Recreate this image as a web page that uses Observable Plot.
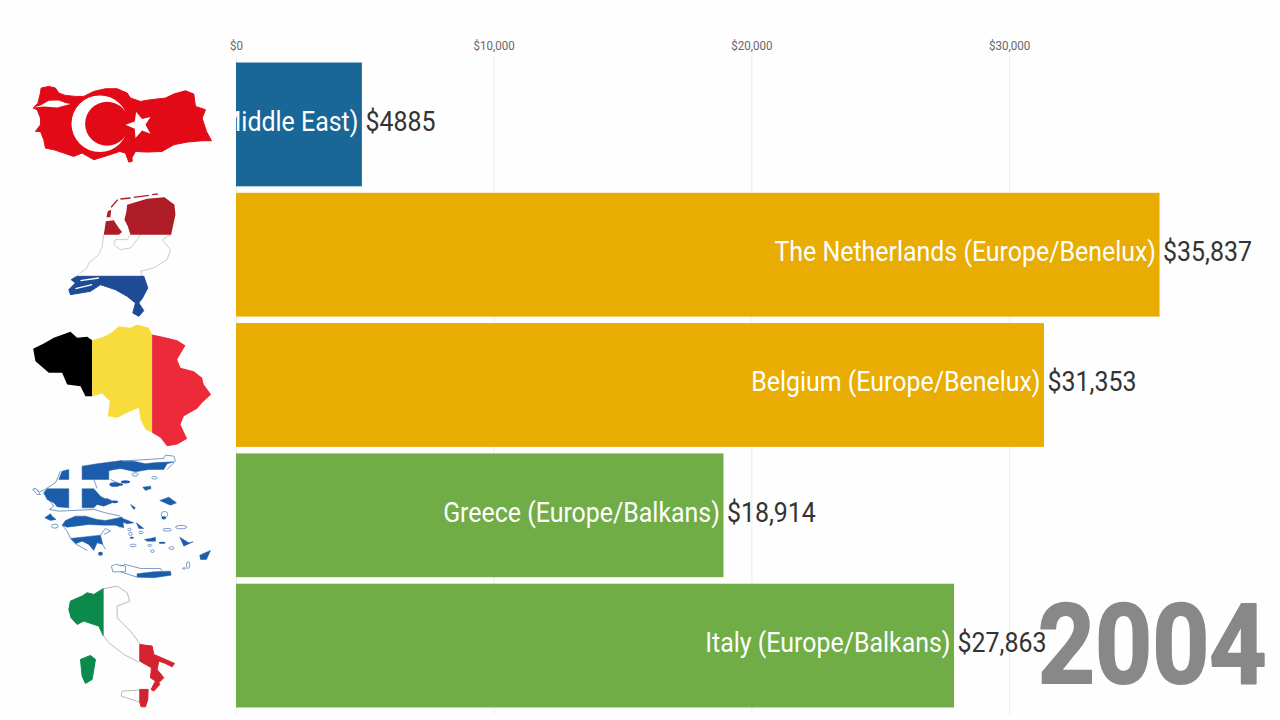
<!DOCTYPE html>
<html>
<head>
<meta charset="utf-8">
<script src="https://cdn.jsdelivr.net/npm/d3@7"></script>
<script src="https://cdn.jsdelivr.net/npm/@observablehq/plot@0.6"></script>
<style>
html,body{margin:0;padding:0;background:#fefefe;overflow:hidden}
svg{display:block}
</style>
</head>
<body>
<div id="chart"></div>
<script>
const countries = ["Turkey", "The Netherlands", "Belgium", "Greece", "Italy"];
const regions = ["Middle East", "Europe/Benelux", "Europe/Benelux", "Europe/Balkans", "Europe/Balkans"];
const gdpValues = [4885, 35837, 31353, 18914, 27863];
const valueLabels = ["$4885", "$35,837", "$31,353", "$18,914", "$27,863"];
const xTicks = [0, 10000, 20000, 30000];
const xTickLabels = ["$0", "$10,000", "$20,000", "$30,000"];
const regionNames = ["Middle East", "Europe/Benelux", "Europe/Balkans"];
const regionColors = ["#196796", "#e8ac03", "#70ad47"];
const yearLabel = "2004";

const poly = (pts, attrs) => `<polygon points="${pts}" ${attrs}/>`;
const soft = (c) => `fill="${c}" stroke="${c}" stroke-width="3" stroke-linejoin="round"`;
const svgUri = (vb, body) => "data:image/svg+xml," + encodeURIComponent(
  `<svg xmlns="http://www.w3.org/2000/svg" viewBox="${vb}" width="195" height="130">${body}</svg>`);

const turkeyOutline = "38,110 52,96 60,65 62,50 85,45 105,50 115,65 135,72 165,75 190,75 220,60 255,52 290,52 320,65 330,80 360,90 390,85 435,80 460,68 495,58 520,68 525,105 555,115 545,140 558,180 573,208 545,208 500,212 460,220 425,240 380,242 345,240 335,258 335,270 325,272 315,245 298,240 262,252 220,265 185,245 160,255 130,245 100,235 75,230 70,205 60,180 45,180 60,160 60,140 50,115";
const turkeyFlag = svgUri("0 -34.5 585 390",
  poly(turkeyOutline, soft("#e30a17")) +
  poly("40,108 60,102 85,88 115,87 135,95 150,98 110,108 70,105", 'fill="#fff"') +
  `<circle cx="238" cy="157" r="85" fill="#fff"/><circle cx="260" cy="157" r="66" fill="#e30a17"/>` +
  poly("315,160 343,150 347,122 365,143 390,137 375,160 390,187 365,177 345,200 343,172", 'fill="#fff"'));

const netherlandsFlag = svgUri("0 356.7 585 390",
  `<path d="M250 490L245 525 235 550 205 575 200 590 180 605 170 615M452 490L425 505 450 535 440 565 400 590 360 600 365 615M330 490L320 505 285 505 280 520 300 535 330 530 350 505 360 490" fill="none" stroke="#ccc" stroke-width="3"/>` +
  poly("318,420 320,400 380,382 432,378 462,400 465,430 452,490 330,490 322,465 312,445", 'fill="#ae1c28"') +
  poly("250,490 256,450 280,447 295,470 305,482 295,490", 'fill="#ae1c28"') +
  poly("258,438 262,420 272,415 270,438", 'fill="#ae1c28"') +
  `<path d="M272 408L292 385M300 383L330 380M340 378L385 372M395 370L412 368" stroke="#ae1c28" stroke-width="4" fill="none"/>` +
  poly("170,615 370,615 382,650 365,682 355,695 370,718 355,735 337,725 345,695 320,675 285,655 240,640 210,660 150,670 145,655 165,635 152,625", soft("#1e4b96")) +
  `<path d="M175 612L205 600 225 610M180 628L235 620M165 652L215 640" stroke="#fff" stroke-width="4" fill="none"/>`);

const belgiumOutline = "38,98 70,82 100,65 150,47 170,65 200,62 215,72 250,62 275,48 295,30 330,35 350,25 385,35 395,55 440,65 470,72 495,88 470,130 480,155 520,165 545,185 550,205 572,235 545,260 530,278 490,300 480,325 500,368 470,385 440,390 420,365 395,350 375,340 360,310 355,275 320,290 290,305 262,300 268,255 245,232 215,240 195,240 180,210 140,205 125,170 85,170 45,135";
const belgiumFlag = svgUri("0 12.9 585 390",
  `<clipPath id="b"><polygon points="${belgiumOutline}"/></clipPath><g clip-path="url(#b)">` +
  `<rect x="0" y="0" width="215" height="420" fill="#000"/><rect x="215" y="0" width="180" height="420" fill="#f8dc3c"/><rect x="395" y="0" width="190" height="420" fill="#ec2a3a"/></g>`);

const grBlue = "#1b5cab";
const grLine = "#5f86bd";
const blue = soft(grBlue).replace('stroke-width="3"', 'stroke-width="1.5"');
const line = `fill="none" stroke="${grLine}" stroke-width="2.5"`;
const ring = `fill="#fff" stroke="${grLine}" stroke-width="2.5"`;
const isl = (cx, cy, rx, ry) => `<ellipse cx="${cx}" cy="${cy}" rx="${rx}" ry="${ry}" fill="${grBlue}"/>`;
const islW = (cx, cy, rx, ry) => `<ellipse cx="${cx}" cy="${cy}" rx="${rx}" ry="${ry}" ${ring}/>`;
const greeceWest =
  `<path d="M22 115L30 112 42 122 55 117 90 95 105 60M55 125L85 165 72 175 100 180 205 175 240 185 285 195M110 222L125 240 135 262M150 278L185 298 M225 252L240 232 255 240 235 250M232 280L240 295M285 230L262 210" ${line}/>` +
  `<path d="M205 85L225 60 255 58M205 85L215 112M255 85L285 100" ${line}/>` +
  poly("22,115 30,112 45,130 35,130", ring) +
  poly("55,125 65,113 130,113 130,170 95,167 85,155 65,145", blue) +
  poly("100,85 110,60 130,55 130,85", blue) +
  poly("170,45 215,38 290,28 300,50 250,58 250,85 170,85", blue) +
  poly("170,113 205,113 225,135 260,155 235,165 215,160 205,170 170,170", blue) +
  poly("110,222 120,208 150,195 180,195 215,205 240,208 290,198 295,230 270,222 235,222 190,220 150,225 125,228", blue) +
  poly("135,262 225,252 232,280 215,275 205,298 190,280 170,270 150,278", blue) +
  poly("58,200 75,188 80,195 92,205 75,208", blue) +
  poly("220,148 245,142 262,150 245,158", blue) +
  isl(268, 100, 16, 7) + isl(268, 152, 10, 4) + islW(88, 225, 10, 6) + isl(225, 308, 7, 6) +
  poly("258,345 270,340 300,345 300,362 262,362", ring);
const greeceEast =
  `<path d="M0 30L130 22 135 12 160 15 165 30 140 55M0 345L15 340 60 352 120 352 125 360M0 362L50 378" ${line}/>` +
  poly("0,30 40,30 75,38 100,35 160,32 140,38 130,55 85,55 45,62 0,52", blue) +
  poly("67,108 90,105 92,112 75,118", blue) +
  poly("118,148 145,138 168,155 150,162", blue) +
  poly("50,368 100,362 150,360 152,372 100,380 50,378", blue) +
  poly("238,312 270,298 258,325 240,325", blue) +
  poly("178,258 205,275 218,272 190,285", blue) +
  poly("72,265 90,262 105,258 105,270 80,270", blue) +
  poly("0,200 15,205 40,215 20,218 0,210", blue) +
  poly("48,215 70,232 55,232", blue) +
  poly("30,160 45,170 40,175", blue) +
  isl(0, 100, 8, 4) + isl(15, 92, 14, 5) +
  islW(44, 70, 9, 5) + islW(102, 80, 8, 4) + islW(132, 190, 10, 9) + isl(130, 200, 7, 5) + islW(182, 228, 17, 5) + islW(140, 236, 13, 4) +
  islW(62, 244, 6, 4) + islW(27, 235, 5, 4) + islW(30, 248, 5, 5) + islW(38, 283, 9, 4) + isl(34, 260, 6, 3) +
  islW(88, 283, 6, 3) + islW(96, 300, 5, 4) + islW(153, 291, 8, 4) + islW(203, 342, 5, 10) + islW(191, 352, 5, 2) + isl(125, 275, 10, 3);
const greeceFlag = svgUri("0 404 585 390",
  `<g transform="translate(15,405)">${greeceWest}</g><g transform="translate(300,405)">${greeceEast}</g>`);

const italyFlag = svgUri("-90 15 585 390",
  `<path d="M158 38L200 30 230 50 238 75 200 90 200 125 240 165 270 205M158 178L175 200 220 235 265 258M268 342L215 345 212 360 268 378" fill="none" stroke="#bbb" stroke-width="3"/>` +
  poly("60,75 95,60 110,50 130,55 158,38 158,178 145,150 100,135 80,145 62,125 55,100", soft("#0c8a4c")) +
  poly("90,250 120,238 135,250 125,310 105,322 95,300", soft("#0c8a4c")) +
  poly("268,205 305,210 310,235 345,250 372,262 365,272 345,262 325,255 320,280 340,305 325,320 328,325 310,345 302,340 315,315 300,305 303,275 268,255", soft("#d2232f")) +
  poly("268,340 293,340 292,370 285,392 272,392 268,378", soft("#d2232f")));

const flags = [turkeyFlag, netherlandsFlag, belgiumFlag, greeceFlag, italyFlag];
const flagCentre = -4600;

const rows = countries.map((c, i) => ({
  country: c,
  region: regions[i],
  value: gdpValues[i],
  label: valueLabels[i],
  name: `${c} (${regions[i]})`,
  flag: flags[i]
}));

const chart = Plot.plot({
  width: 1280,
  height: 720,
  marginLeft: 236,
  marginRight: 0,
  marginTop: 56,
  marginBottom: 6,
  style: {background: "#fefefe", fontFamily: "Roboto"},
  x: {domain: [0, 40512], axis: null},
  y: {domain: countries, padding: 0.05, round: false, axis: null},
  color: {domain: regionNames, range: regionColors},
  marks: [
    Plot.ruleX(xTicks, {stroke: "#ececec", strokeWidth: 1}),
    Plot.axisX({
      anchor: "top",
      ticks: xTicks,
      tickSize: 0,
      tickPadding: 7,
      tickFormat: (d) => xTickLabels[xTicks.indexOf(d)],
      fontSize: 13,
      color: "#666",
      label: null
    }),
    Plot.barX(rows, {x: "value", y: "country", fill: "region"}),
    Plot.text(rows, {
      x: "value", y: "country", text: "name", dx: -4, dy: -3,
      textAnchor: "end", fill: "#fff", fontSize: 28, clip: true
    }),
    Plot.text(rows, {
      x: "value", y: "country", text: "label", dx: 3, dy: -3,
      textAnchor: "start", fill: "#333", fontSize: 28
    }),
    Plot.text([yearLabel], {
      frameAnchor: "bottom-right", dx: -14, dy: -32,
      text: (d) => d, textAnchor: "end", lineAnchor: "bottom",
      fill: "#888", stroke: "#888", strokeWidth: 2, fontSize: 112, fontWeight: 700
    }),
    Plot.image(rows, {
      x: () => flagCentre, y: "country", src: "flag", width: 195, height: 130
    })
  ]
});
document.getElementById("chart").appendChild(chart);

// Roboto Condensed is not installed: narrow Roboto horizontally around each text's anchor.
chart.querySelectorAll("text").forEach((t) => {
  t.setAttribute("transform", `${t.getAttribute("transform") || ""} scale(0.89,1)`);
});
</script>
</body>
</html>
